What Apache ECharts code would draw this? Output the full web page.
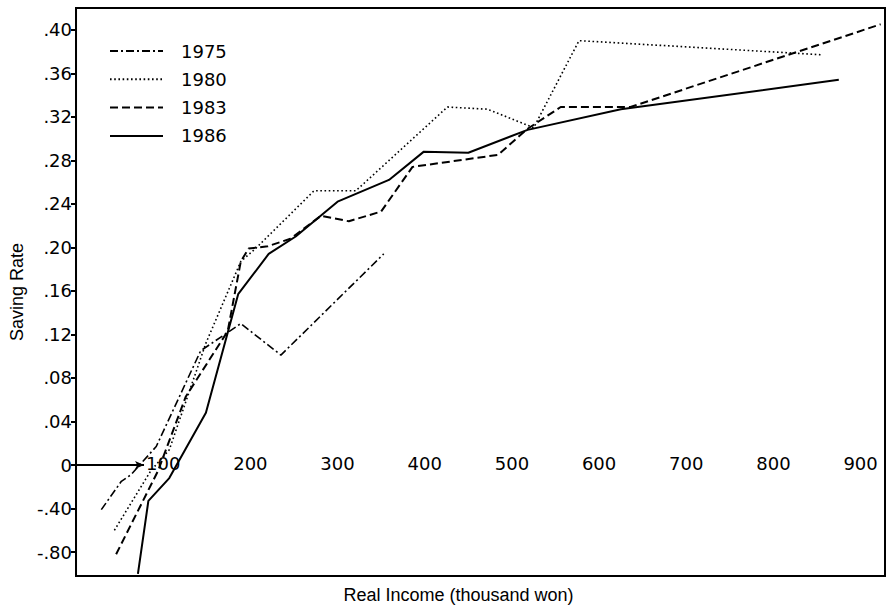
<!DOCTYPE html>
<html>
<head>
<meta charset="utf-8">
<script src="https://cdn.jsdelivr.net/npm/echarts@6/dist/echarts.min.js"></script>
<style>
html,body{margin:0;padding:0;background:#fff;}
#chart{width:887px;height:609px;}
</style>
</head>
<body>
<div id="chart"></div>
<script>
// Series values: real income (thousand won) and saving rate
const income1975 = [29, 52, 63, 92, 143, 189, 235, 353];
const rate1975   = [-0.41, -0.15, -0.09, 0.017, 0.105, 0.130, 0.101, 0.194];
const income1980 = [44, 86, 107, 149, 189, 206, 273, 321, 426, 472, 525, 577, 856];
const rate1980   = [-0.60, -0.05, 0.014, 0.112, 0.187, 0.199, 0.252, 0.252, 0.329, 0.327, 0.310, 0.390, 0.377];
const income1983 = [46, 94, 126, 174, 189, 198, 220, 246, 281, 313, 350, 386, 484, 518, 556, 636, 923];
const rate1983   = [-0.82, -0.055, 0.063, 0.123, 0.187, 0.199, 0.201, 0.208, 0.229, 0.224, 0.233, 0.274, 0.285, 0.309, 0.329, 0.329, 0.405];
const income1986 = [71, 83, 107, 149, 186, 221, 252, 300, 359, 399, 450, 518, 625, 875];
const rate1986   = [-1.0, -0.33, -0.12, 0.048, 0.157, 0.194, 0.210, 0.242, 0.262, 0.288, 0.287, 0.308, 0.327, 0.354];
const seriesNames = ['1975', '1980', '1983', '1986'];

// Tick labels
const xTicks = [100, 200, 300, 400, 500, 600, 700, 800, 900];
const yTicksReal = [-0.80, -0.40, 0, 0.04, 0.08, 0.12, 0.16, 0.20, 0.24, 0.28, 0.32, 0.36, 0.40];

// Axis break: negative rates are drawn at 1/10 scale
function toAxis(v) { return v < 0 ? v / 10 : v; }
function fromAxis(v) { return v < 0 ? v * 10 : v; }
function pairs(xs, ys) { return xs.map((x, i) => [x, toAxis(ys[i])]); }
function fmtY(v) {
  if (Math.abs(v) < 1e-9) return '0';
  const r = fromAxis(v);
  return r.toFixed(2).replace('0.', '.');
}

const yAxisTicks = yTicksReal.map(toAxis);
const tickFont = 'DejaVu Sans';
const nameFont = 'Liberation Sans';

const W = 887, H = 609;
const gridTop = 8, gridBottom = 31;
const yMin = -0.102, yMax = 0.42;
// place the income labels on the zero line
const zeroOffset = -(H - gridTop - gridBottom) * (yMax - 0) / (yMax - yMin);

const chart = echarts.init(document.getElementById('chart'), null, {renderer: 'svg'});
chart.setOption({
  animation: false,
  backgroundColor: '#fff',
  grid: {left: 75, right: 2, top: gridTop, bottom: gridBottom, show: true, borderColor: '#000', borderWidth: 2, backgroundColor: 'transparent'},
  legend: {
    data: seriesNames,
    orient: 'vertical',
    left: 104, top: 37,
    itemWidth: 53, itemHeight: 14, itemGap: 10.3,
    itemStyle: {opacity: 0},
    textStyle: {fontFamily: tickFont, fontSize: 18, color: '#000', padding: [0, 0, 0, 13]}
  },
  xAxis: [{
    type: 'value', min: 0, max: 928, position: 'top', offset: zeroOffset,
    axisLine: {show: false, onZero: false},
    axisTick: {show: false},
    splitLine: {show: false},
    axisLabel: {
      customValues: xTicks, margin: 3, verticalAlign: 'middle',
      fontFamily: tickFont, fontSize: 18, color: '#000'
    }
  }, {
    type: 'value', min: 0, max: 928, position: 'bottom',
    axisLine: {show: false, onZero: false},
    axisTick: {show: false}, axisLabel: {show: false}, splitLine: {show: false},
    name: 'Real Income (thousand won)', nameLocation: 'middle', nameGap: 10,
    nameTextStyle: {fontFamily: nameFont, fontSize: 18, color: '#000', padding: [0, 44, 0, 0], verticalAlign: 'top'}
  }],
  yAxis: {
    type: 'value', min: yMin, max: yMax,
    axisLine: {show: true, onZero: false, lineStyle: {color: '#000', width: 2}},
    axisTick: {show: true, inside: false, length: 5, customValues: yAxisTicks, lineStyle: {color: '#000', width: 2}},
    splitLine: {show: false},
    axisLabel: {customValues: yAxisTicks, formatter: fmtY, margin: 4, fontFamily: tickFont, fontSize: 18, color: '#000'},
    name: 'Saving Rate', nameLocation: 'middle', nameGap: 50,
    nameTextStyle: {fontFamily: nameFont, fontSize: 18, color: '#000'}
  },
  series: [{
    name: '1975', type: 'line', symbol: 'none', data: pairs(income1975, rate1975),
    lineStyle: {color: '#000', width: 1.6, type: [8, 3, 2, 3]}, itemStyle: {color: '#000'}
  }, {
    name: '1980', type: 'line', symbol: 'none', data: pairs(income1980, rate1980),
    lineStyle: {color: '#000', width: 1.6, type: [1.6, 2.6]}, itemStyle: {color: '#000'}
  }, {
    name: '1983', type: 'line', symbol: 'none', data: pairs(income1983, rate1983),
    lineStyle: {color: '#000', width: 2, type: [8, 4]}, itemStyle: {color: '#000'}
  }, {
    name: '1986', type: 'line', symbol: 'none', data: pairs(income1986, rate1986),
    lineStyle: {color: '#000', width: 2, type: 'solid'}, itemStyle: {color: '#000'},
    markLine: {
      silent: true, symbol: ['none', 'arrow'], symbolSize: [6, 9],
      label: {show: false},
      lineStyle: {color: '#000', width: 2, type: 'solid'},
      data: [[{coord: [0, 0]}, {coord: [78, 0]}]]
    }
  }]
});
</script>
</body>
</html>
